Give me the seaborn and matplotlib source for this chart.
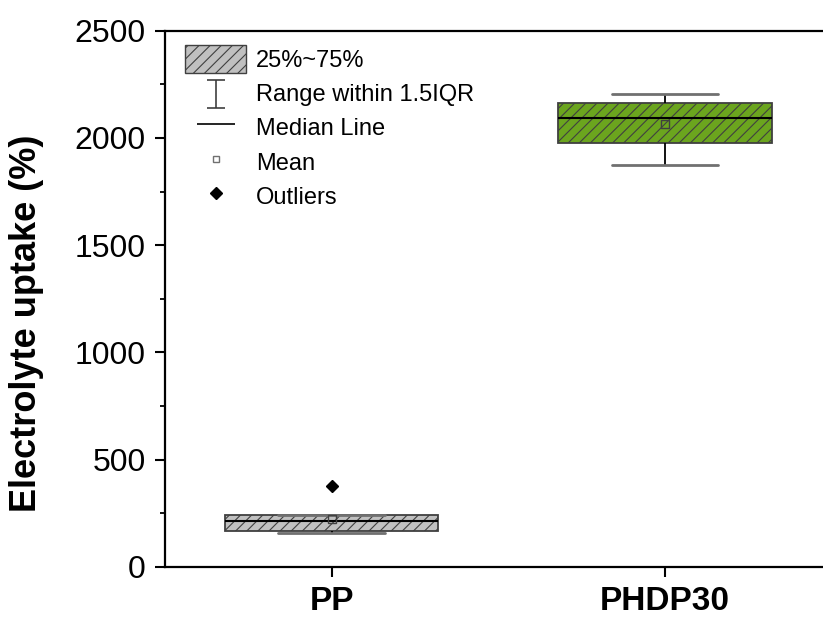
import numpy as np
import pandas as pd
import matplotlib
matplotlib.use("Agg")
import matplotlib.pyplot as plt
from matplotlib.path import Path
from matplotlib.patches import Patch
from matplotlib.lines import Line2D
from matplotlib.ticker import MultipleLocator
import seaborn as sns

# ---- data ----
categories = ["PP", "PHDP30"]
pp_values = [156, 162, 165, 210, 212, 238, 240, 243, 377]
phdp30_values = [1874, 1935, 1977, 2045, 2091, 2135, 2162, 2180, 2204]
box_colors = ["#C0C0C0", "#6BA51E"]
legend_labels = ["25%~75%", "Range within 1.5IQR", "Median Line", "Mean", "Outliers"]
y_ticks = [0, 500, 1000, 1500, 2000, 2500]

df = pd.DataFrame({
    "sample": [categories[0]] * len(pp_values) + [categories[1]] * len(phdp30_values),
    "uptake": pp_values + phdp30_values,
})

sns.set_style("ticks")
plt.rcParams["font.family"] = ["Liberation Sans", "DejaVu Sans"]
plt.rcParams["hatch.linewidth"] = 0.8
for key in ["text.color", "axes.labelcolor", "xtick.color", "ytick.color",
            "axes.edgecolor"]:
    plt.rcParams[key] = "black"

fig = plt.figure(figsize=(8.23, 6.17), dpi=100)
ax = fig.add_axes([165 / 823, 50.3 / 617, 666.5 / 823, 536 / 617])

edge = "#404040"
sns.boxplot(
    data=df, x="sample", y="uptake", hue="sample", order=categories,
    palette=dict(zip(categories, box_colors)), saturation=1, legend=False,
    width=0.64, whis=1.5, showmeans=True, ax=ax, linewidth=1.3,
    boxprops=dict(edgecolor=edge, linewidth=1.3),
    whiskerprops=dict(color="black", linewidth=1.3),
    capprops=dict(color="#707070", linewidth=2.0),
    medianprops=dict(color="black", linewidth=1.5),
    meanprops=dict(marker="s", markerfacecolor="none", markeredgecolor=edge,
                   markersize=6, markeredgewidth=1.0),
    flierprops=dict(marker="D", markerfacecolor="black", markeredgecolor="black",
                    markersize=6),
)

for p in ax.patches:
    p.set_hatch("///")
    p.set_edgecolor(edge)

ax.set_xlim(-0.5, 1.5)
ax.set_ylim(0, 2500)
ax.set_yticks(y_ticks)
ax.yaxis.set_minor_locator(MultipleLocator(250))
ax.set_xlabel("")
ax.set_ylabel("Electrolyte uptake (%)", fontsize=26, fontweight="bold", color="black")
ax.yaxis.set_label_coords(-0.181, 0.455)

for side in ["left", "bottom", "top", "right"]:
    ax.spines[side].set_visible(True)
    ax.spines[side].set_linewidth(1.6)
    ax.spines[side].set_color("black")

ax.tick_params(axis="y", which="major", direction="out", length=7, width=1.5,
               labelsize=23, pad=7, colors="black")
ax.tick_params(axis="y", which="minor", direction="out", length=3.5, width=1.3,
               colors="black")
ax.tick_params(axis="x", which="major", direction="out", length=7, width=1.5,
               labelsize=24, pad=7, colors="black")
for lbl in ax.get_xticklabels():
    lbl.set_fontweight("bold")

# legend
ipath = Path(
    [(-0.65, 0.7), (0.65, 0.7), (0, 0.7), (0, -1.3), (-0.65, -1.3), (0.65, -1.3)],
    [Path.MOVETO, Path.LINETO, Path.MOVETO, Path.LINETO, Path.MOVETO, Path.LINETO],
)
handles = [
    Patch(facecolor=box_colors[0], edgecolor=edge, hatch="///", linewidth=1.0),
    Line2D([], [], ls="none", marker=ipath, markersize=26, markerfacecolor="none",
           markeredgecolor=edge, markeredgewidth=1.2),
    Line2D([], [], ls="none", marker="_", markersize=27, markeredgecolor="black",
           markeredgewidth=1.2),
    Line2D([], [], ls="none", marker="s", markersize=5, markerfacecolor="none",
           markeredgecolor="#707070", markeredgewidth=1.0),
    Line2D([], [], ls="none", marker="D", markersize=6, markerfacecolor="black",
           markeredgecolor="black"),
]
leg = ax.legend(handles, legend_labels, loc="upper left", bbox_to_anchor=(0.030, 0.973),
                frameon=False, fontsize=17, handlelength=2.6, handleheight=1.45,
                handletextpad=0.4, labelspacing=0.26, borderpad=0, borderaxespad=0)
for t in leg.get_texts():
    t.set_color("black")

fig.savefig("out.png", dpi=100)
